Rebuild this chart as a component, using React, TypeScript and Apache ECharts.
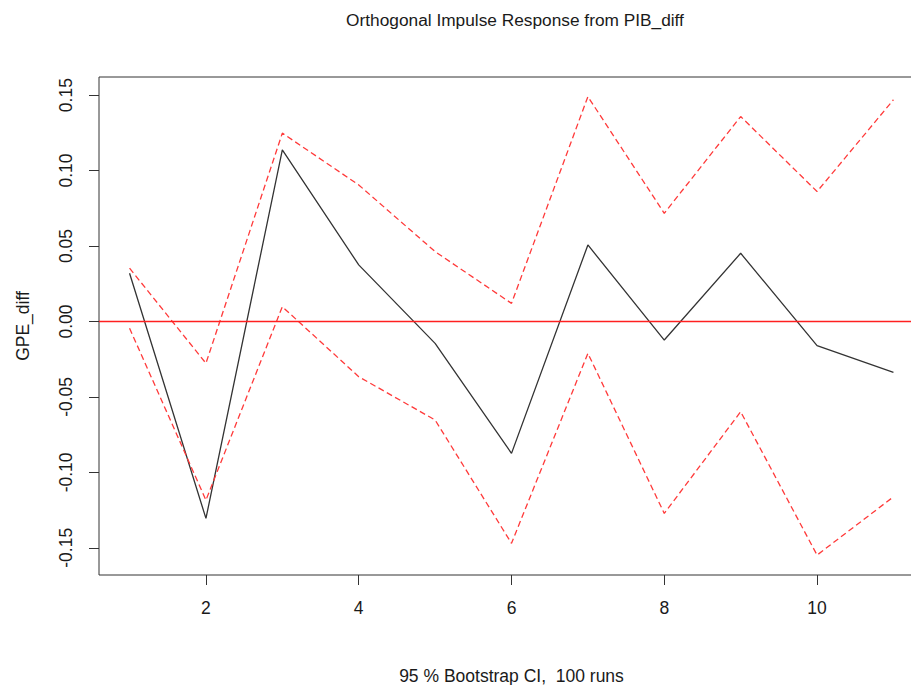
import React, { useEffect, useRef } from "react";
import * as echarts from "echarts";

const steps = [1, 2, 3, 4, 5, 6, 7, 8, 9, 10, 11];
const irf = [0.032, -0.1305, 0.1137, 0.0375, -0.0145, -0.0874, 0.0507, -0.0123, 0.0452, -0.016, -0.0337];
const upper = [0.0353, -0.0277, 0.1248, 0.0905, 0.0463, 0.012, 0.149, 0.0717, 0.1358, 0.0861, 0.1469];
const lower = [-0.0045, -0.1184, 0.0098, -0.0366, -0.0653, -0.147, -0.0211, -0.1272, -0.0598, -0.1548, -0.1162];
const xTicks = [2, 4, 6, 8, 10];
const yTicks = [-0.15, -0.1, -0.05, 0, 0.05, 0.1, 0.15];
const xRange = [0.6, 11.4];
const yRange = [-0.168, 0.162];
const zeroLevel = 0;

const FONT = "'Liberation Sans', Arial, sans-serif";
const TXT = "#1a1a1a";
const RED = "#ff3a3a";

export default function App() {
  const ref = useRef<HTMLDivElement>(null);
  useEffect(() => {
    if (!ref.current) return;
    const chart = echarts.init(ref.current, undefined, { renderer: "svg" });
    const pair = (arr: number[]) => steps.map((s, i) => [s, arr[i]]);
    chart.setOption({
      animation: false,
      backgroundColor: "#ffffff",
      title: {
        text: "Orthogonal Impulse Response from PIB_diff",
        left: 510,
        textAlign: "center",
        top: 6,
        textStyle: { fontFamily: FONT, fontSize: 17.3, fontWeight: "normal", color: TXT },
      },
      grid: {
        left: 99,
        top: 77,
        width: 825,
        height: 498,
        outerBoundsMode: "none",
        show: true,
        borderColor: "#333",
        borderWidth: 1,
        backgroundColor: "transparent",
      },
      xAxis: {
        type: "value",
        min: xRange[0],
        max: xRange[1],
        name: "95 % Bootstrap CI,  100 runs",
        nameLocation: "middle",
        nameGap: 92,
        nameTextStyle: { fontFamily: FONT, fontSize: 17.5, color: TXT },
        axisLine: { show: false, onZero: false },
        splitLine: { show: false },
        axisTick: { show: true, length: 10, customValues: xTicks, lineStyle: { color: "#333" } },
        axisLabel: {
          customValues: xTicks,
          margin: 24,
          fontFamily: FONT,
          fontSize: 17.5,
          color: TXT,
          formatter: (v: number) => String(v),
        },
      },
      yAxis: {
        type: "value",
        min: yRange[0],
        max: yRange[1],
        name: "GPE_diff",
        nameLocation: "middle",
        nameRotate: 90,
        nameGap: 67,
        nameTextStyle: { fontFamily: FONT, fontSize: 17.5, color: TXT },
        axisLine: { show: false },
        splitLine: { show: false },
        axisTick: { show: true, length: 10, customValues: yTicks, lineStyle: { color: "#333" } },
        axisLabel: {
          customValues: yTicks,
          rotate: 90,
          margin: 24,
          fontFamily: FONT,
          fontSize: 17.5,
          color: TXT,
          formatter: (v: number) => v.toFixed(2),
        },
      },
      series: [
        {
          type: "line",
          name: "irf",
          data: pair(irf),
          symbol: "none",
          itemStyle: { color: "#333333" },
          lineStyle: { color: "#333333", width: 1.3 },
          z: 3,
        },
        {
          type: "line",
          name: "zero",
          data: xRange.map((x) => [x, zeroLevel]),
          symbol: "none",
          itemStyle: { color: "#ff2020" },
          lineStyle: { color: "#ff2020", width: 1.4, type: "solid" },
          z: 4,
        },
        {
          type: "line",
          name: "upper",
          data: pair(upper),
          symbol: "none",
          itemStyle: { color: RED },
          lineStyle: { color: RED, width: 1.3, type: [6, 3.5] },
        },
        {
          type: "line",
          name: "lower",
          data: pair(lower),
          symbol: "none",
          itemStyle: { color: RED },
          lineStyle: { color: RED, width: 1.3, type: [6, 3.5] },
        },
      ],
    });
    return () => chart.dispose();
  }, []);
  return (
    <div
      ref={ref}
      style={{ position: "fixed", left: 0, top: 0, width: 911, height: 685, background: "#fff" }}
    />
  );
}
